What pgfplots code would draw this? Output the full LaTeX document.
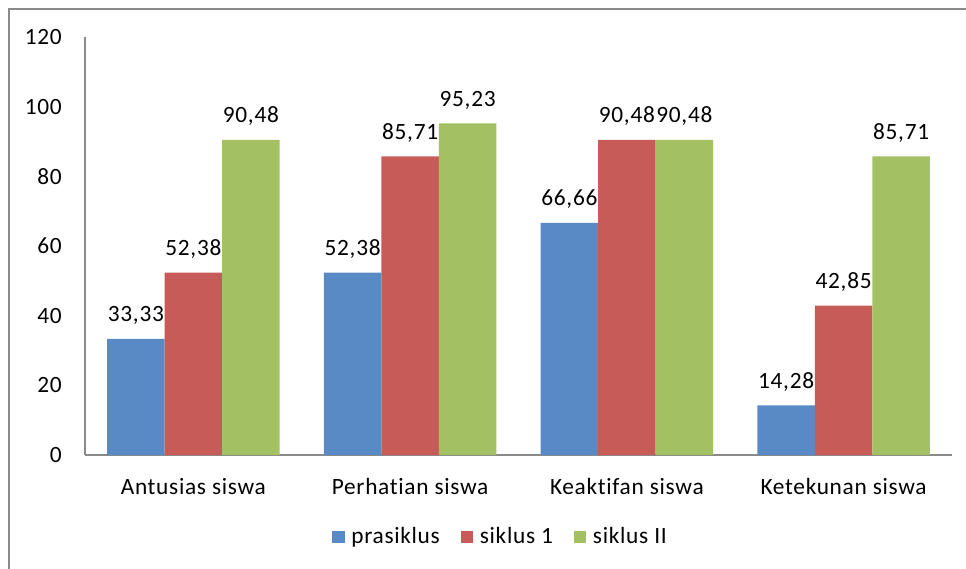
\documentclass[border=0pt]{standalone}
\usepackage{pgfplots}
\usepackage{pgfplotstable}
\pgfplotsset{compat=1.18}
\usepackage{fontspec}
\setmainfont{Carlito}[LetterSpace=3, RawFeature={-liga;-dlig}]
\definecolor{cblue}{HTML}{5A8AC6}
\definecolor{cred}{HTML}{C65B58}
\definecolor{cgreen}{HTML}{A3C163}
\definecolor{cframe}{HTML}{8A8A8A}
\newcommand{\fs}{\fontsize{17.5}{20}\selectfont}
\pgfplotstableread{
x y lab
0 33.33 33,33
1 52.38 52,38
2 66.66 66,66
3 14.28 14,28
}\prasiklus
\pgfplotstableread{
x y lab
0 52.38 52,38
1 85.71 85,71
2 90.48 90,48
3 42.85 42,85
}\siklusI
\pgfplotstableread{
x y lab
0 90.48 90,48
1 95.23 95,23
2 90.48 90,48
3 85.71 85,71
}\siklusII
\begin{document}
\fs
\begin{tikzpicture}
\path[use as bounding box] (0,0) rectangle (724.5pt,426pt);
\draw[cframe, line width=1.2pt] (6.75pt,-20pt) -- (6.75pt,419.25pt) -- (760pt,419.25pt);
\begin{axis}[
  at={(63.75pt,84.75pt)}, anchor=south west,
  scale only axis, width=650.25pt, height=313.5pt,
  xmin=-0.5, xmax=3.5, ymin=0, ymax=120,
  axis x line=bottom, axis y line=left,
  axis line style={-, draw=cframe, line width=0.9pt},
  major tick length=0pt,
  xtick={0,1,2,3},
  xticklabels={Antusias siswa, Perhatian siswa, Keaktifan siswa, Ketekunan siswa},
  ytick={0,20,...,120},
  /pgf/number format/assume math mode=true,
  xticklabel style={font=\fs, anchor=base, inner sep=0pt, yshift=-29.25pt},
  yticklabel style={font=\fs, anchor=east, inner sep=0pt, xshift=-17.25pt},
  ybar=0pt, bar width=43.125pt,
  clip=false,
  nodes near coords,
  point meta=explicit symbolic,
  nodes near coords style={font=\fs, anchor=base, inner sep=0pt, yshift=12.75pt},
  legend columns=3,
  legend style={draw=none, fill=none, inner sep=0pt, outer sep=0pt,
    at={(axis description cs:0.2849,-0.1962)}, anchor=west, font=\fs,
    /tikz/every odd column/.append style={column sep=3pt},
    /tikz/every even column/.append style={column sep=13.5pt}},
  legend image code/.code={\fill[#1] (0pt,-4.5pt) rectangle (9.5pt,4.5pt);},
]
\addplot[fill=cblue, draw=none] table[x=x, y=y, meta=lab] \prasiklus;
\addplot[fill=cred, draw=none] table[x=x, y=y, meta=lab] \siklusI;
\addplot[fill=cgreen, draw=none] table[x=x, y=y, meta=lab] \siklusII;
\legend{prasiklus, siklus 1, siklus II}
\end{axis}
\end{tikzpicture}
\end{document}
